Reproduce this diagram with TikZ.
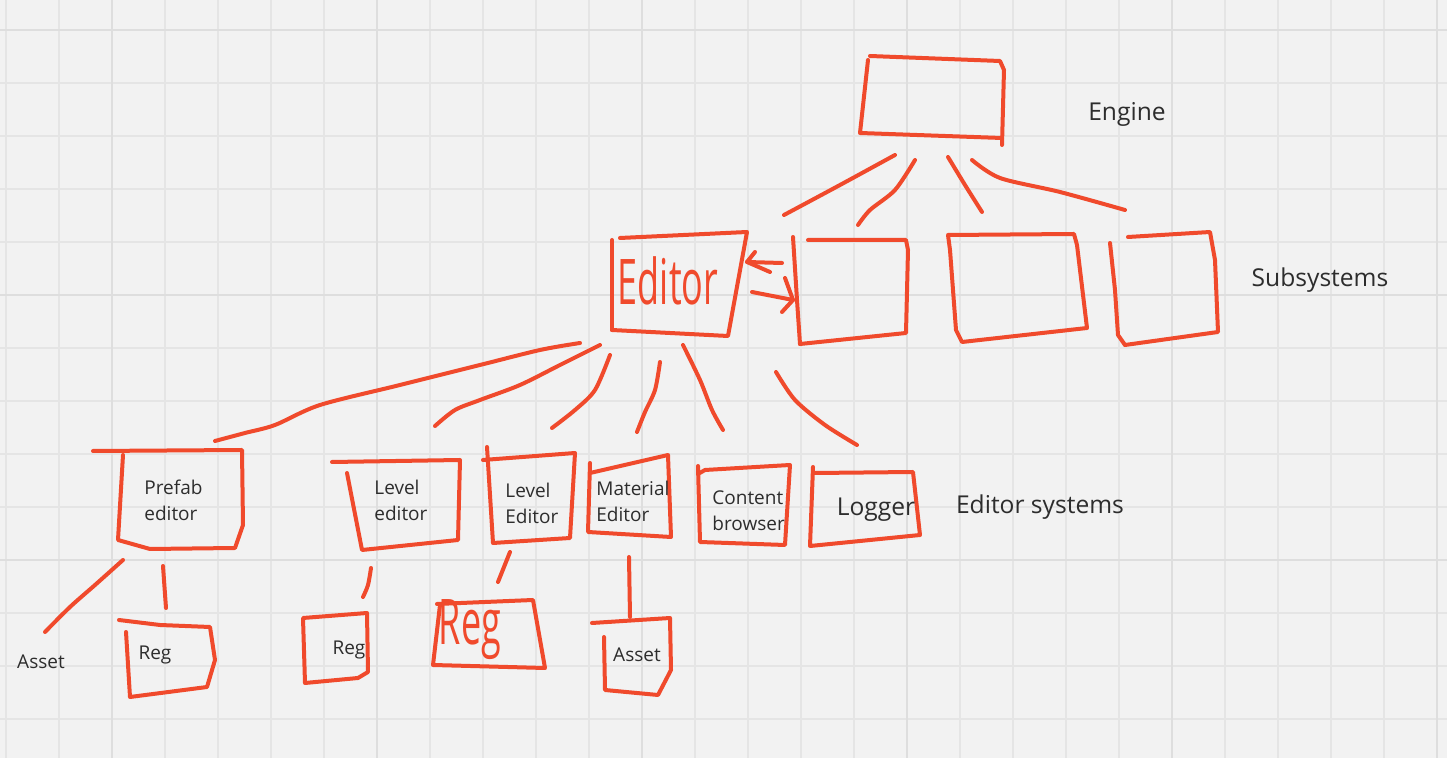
\documentclass[tikz,border=0pt]{standalone}
\usepackage{fontspec}
\setmainfont{Open Sans}
\definecolor{pen}{RGB}{240,74,44}
\definecolor{bgc}{RGB}{242,242,242}
\definecolor{gridc}{RGB}{229,229,229}
\definecolor{gridm}{RGB}{222,222,222}
\definecolor{ink}{RGB}{45,45,45}
\begin{document}
\begin{tikzpicture}[x=0.5pt,y=-0.5pt,
  pen/.style={draw=pen,line width=2pt,line cap=round,line join=round},
  lbl/.style={text=ink,font=\fontsize{9.5}{13}\selectfont,align=left,inner sep=0pt},
  big/.style={text=ink,font=\fontsize{12.3}{14}\selectfont,inner sep=0pt},
  hand/.style={text=pen,font=\fontsize{18}{20}\selectfont,inner sep=0pt,yscale=1.75}]
\fill[bgc] (0,0) rectangle (1447,758);
\useasboundingbox (0,0) rectangle (1447,758);
\foreach \x in {6,59,...,1446} \draw[gridc,line width=0.7pt] (\x,0) -- (\x,758);
\foreach \y in {30,83,...,757} \draw[gridc,line width=0.7pt] (0,\y) -- (1447,\y);
\foreach \x in {112,377,...,1446} \draw[gridm,line width=0.8pt] (\x,0) -- (\x,758);
\foreach \y in {30,295,...,757} \draw[gridm,line width=0.8pt] (0,\y) -- (1447,\y);

% engine box
\draw[pen] (870,56) -- (1000,61) -- (1004,70) -- (1002,145);
\draw[pen] (868,60) -- (860,133) -- (1002,138);
% engine connectors
\draw[pen] plot[smooth] coordinates {(895,155) (840,185) (784,215)};
\draw[pen] plot[smooth] coordinates {(915,160) (895,190) (870,210) (858,225)};
\draw[pen] plot[smooth] coordinates {(948,157) (965,185) (982,212)};
\draw[pen] plot[smooth] coordinates {(972,160) (1000,178) (1060,192) (1125,210)};
% subsystems
\draw[pen] (808,240) -- (906,240) -- (908,250) -- (906,333) -- (800,344);
\draw[pen] (793,237) -- (797,300) -- (800,344);
\draw[pen] (948,235) -- (1074,234) -- (1077,245) -- (1087,328) -- (962,342) -- (956,330) -- (950,250) -- cycle;
\draw[pen] (1128,237) -- (1210,232) -- (1215,260) -- (1218,332) -- (1125,345);
\draw[pen] (1110,243) -- (1115,290) -- (1118,335) -- (1125,345);
% editor box
\draw[pen] (620,238) -- (747,232) -- (728,336) -- (612,330);
\draw[pen] (612,240) -- (612,330);
% arrows
\draw[pen] (782,263) -- (747,262);
\draw[pen] (755,252) -- (747,262) -- (770,272);
\draw[pen] (752,292) -- (793,300);
\draw[pen] (785,278) -- (793,300) -- (782,312);
% editor connectors
\draw[pen] plot[smooth] coordinates {(580,343) (540,350) (480,365) (400,385) (320,405) (275,425) (245,433) (215,441)};
\draw[pen] plot[smooth] coordinates {(600,345) (560,365) (520,385) (480,400) (455,410) (435,426)};
\draw[pen] plot[smooth] coordinates {(610,355) (595,390) (575,410) (552,428)};
\draw[pen] plot[smooth] coordinates {(660,362) (655,390) (645,412) (637,432)};
\draw[pen] plot[smooth] coordinates {(683,345) (700,380) (712,410) (723,430)};
\draw[pen] plot[smooth] coordinates {(776,372) (795,400) (825,425) (857,445)};
% prefab
\draw[pen] (93,451) -- (242,450) -- (243,525) -- (235,548) -- (150,549) -- (118,540) -- (123,455);
\draw[pen] plot[smooth] coordinates {(123,560) (95,585) (70,607) (45,632)};
\draw[pen] (163,566) -- (166,608);
\draw[pen] (119,620) -- (160,625) -- (210,627) -- (215,660) -- (207,687) -- (130,697) -- (126,632);
% level editor 1
\draw[pen] (332,462) -- (460,460) -- (458,540) -- (362,550) -- (347,473);
\draw[pen] plot[smooth] coordinates {(371,568) (368,585) (363,597)};
\draw[pen] (303,618) -- (367,613) -- (368,672) -- (358,678) -- (305,683) -- cycle;
% level editor 2
\draw[pen] (483,460) -- (575,453) -- (570,538) -- (493,543) -- (487,447);
\draw[pen] (510,552) -- (498,582);
\draw[pen] (437,604) -- (533,600) -- (545,668) -- (433,665) -- (440,605);
% material editor
\draw[pen] (590,473) -- (668,455) -- (671,537) -- (588,532) -- (590,463);
\draw[pen] (629,557) -- (630,617);
\draw[pen] (592,623) -- (670,618) -- (671,670) -- (658,695) -- (605,690) -- (604,637);
% content browser
\draw[pen] (698,466) -- (700,542) -- (785,545) -- (790,465) -- (705,470) -- (698,474);
% logger
\draw[pen] (813,467) -- (810,546) -- (920,535) -- (913,472) -- (815,473);

% labels
\node[big] (engine) at (1127,114) {Engine};
\node[big] (subsys) at (1320,280) {Subsystems};
\node[big] (edsys) at (1040,507) {Editor systems};
\node[big] (logger) at (876,510) {Logger};
\node[hand] (editor) at (668,281) {Editor};
\node[hand] (regbig) at (470,630) {Reg};
\node[lbl,anchor=west] (prefab) at (144,500) {Prefab\\editor};
\node[lbl,anchor=west] (level1) at (374,500) {Level\\editor};
\node[lbl,anchor=west] (level2) at (505,503) {Level\\Editor};
\node[lbl,anchor=west] (material) at (596,501) {Material\\Editor};
\node[lbl,anchor=west] (content) at (712,511) {Content\\browser};
\node[lbl] (reg1) at (155,655) {Reg};
\node[lbl] (reg2) at (349,650) {Reg};
\node[lbl] (asset2) at (637,655) {Asset};
\node[lbl] (asset1) at (41,662) {Asset};
\end{tikzpicture}
\end{document}
